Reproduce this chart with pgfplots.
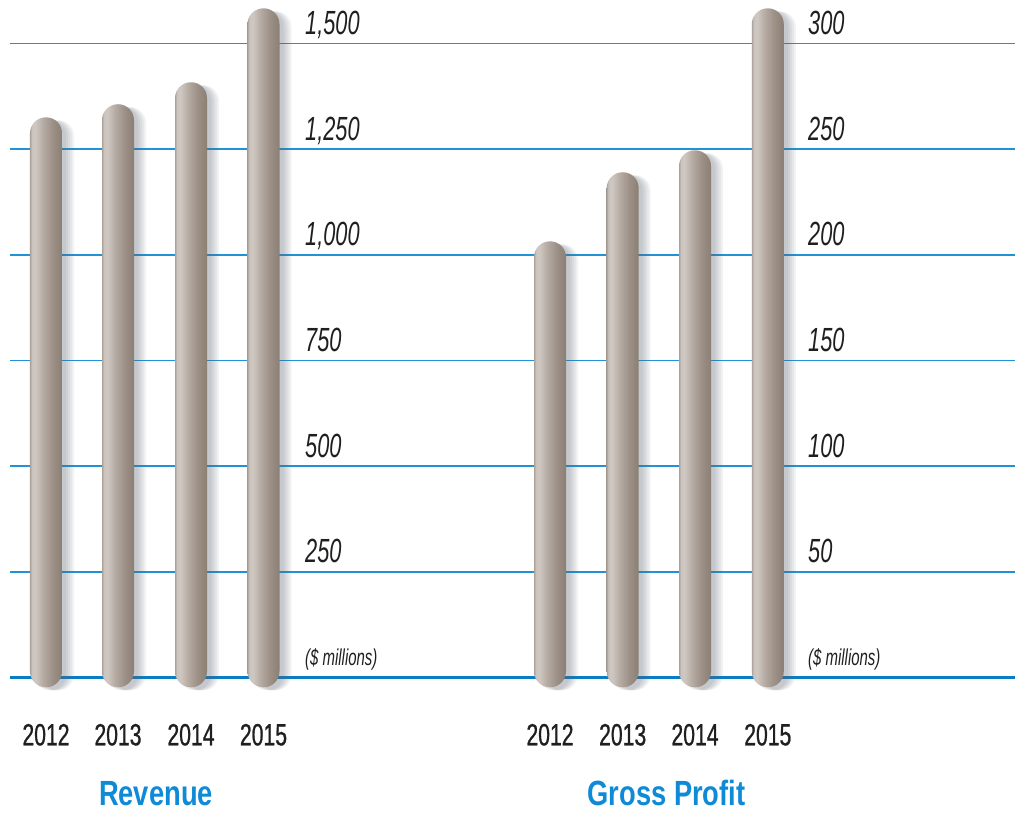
\documentclass[border=0pt]{standalone}
\usepackage{pgfplots}
\pgfplotsset{compat=1.18}
\usepackage{fontspec}
\setmainfont{Liberation Sans}
\newfontfamily\lblfont[FakeStretch=0.65]{Liberation Sans}
\newfontfamily\yearfont[FakeStretch=0.69, FakeBold=0.8]{Liberation Sans}
\newfontfamily\titlefont[FakeStretch=0.78]{Liberation Sans}
\definecolor{gridblue}{HTML}{2192D6}
\definecolor{baseblue}{HTML}{0A7CC4}
\definecolor{titleblue}{HTML}{0E8AD6}
\definecolor{shadowc}{HTML}{5F6672}
\definecolor{b0}{HTML}{ACA29A}
\definecolor{b1}{HTML}{CBC3BD}
\definecolor{b2}{HTML}{CFC8C2}
\definecolor{b3}{HTML}{B6ACA4}
\definecolor{b4}{HTML}{9D9086}
\definecolor{b5}{HTML}{8B7E73}
\pgfdeclarehorizontalshading{pill}{100bp}{color(0bp)=(b0); color(25bp)=(b0); color(28bp)=(b1); color(33bp)=(b2); color(45bp)=(b3); color(60bp)=(b4); color(75bp)=(b5); color(100bp)=(b5)}
\pgfplotsset{
  pillaxis/.style={
    scale only axis, height=676.05pt, clip=false,
    axis line style={draw=none}, major tick style={draw=none}, minor tick style={draw=none},
    ymajorgrids=false, yminorgrids,
    minor grid style={line width=3pt, color=baseblue},
    extra y tick labels={},
    extra y tick style={ymajorgrids=true, major grid style={line width=1.8pt, color=gridblue}},
    xticklabel style={font=\yearfont\fontsize{30.7}{31}\selectfont, text=black!88, anchor=base, inner sep=0pt, yshift=-46.9pt},
    yticklabel style={font=\lblfont\itshape\fontsize{33.5}{34}\selectfont, text=black!88, anchor=base west, inner sep=0pt, yshift=9pt},
  },
  shad/.style={
    ybar, bar width=32pt, bar shift=#1, draw=none, fill=shadowc, fill opacity=0.085,
    rounded corners=15.9pt, yshift=-13pt, forget plot,
  },
  pill/.style={
    ybar, bar width=32pt, bar shift=0pt, draw=none,
    shade, shading=pill, rounded corners=15.9pt, yshift=-10pt,
  },
}
\begin{document}
\begin{tikzpicture}
\useasboundingbox (0pt,0pt) rectangle (1015pt,815pt);
\pgfplotstableread{
x y
46 1349
118 1380
191 1432
263.5 1607
}\revenue
\pgfplotstableread{
x y
550 211.1
622.7 243.8
695 254.2
767.8 321.4
}\profit
% Revenue
\begin{axis}[pillaxis, at={(10pt,116.57pt)}, anchor=south west,
  width=490pt, xmin=10, xmax=500, ymin=-50, ymax=1550,
  ytick={0,250,500,750,1000,1250,1500}, minor ytick={0},
  extra y ticks={250,500,750,1000,1250,1500},
  yticklabels={{\raisebox{3pt}{\fontsize{23}{23}\selectfont(\$ millions)}},250,500,750,{1,000},{1,250},{1,500}},
  yticklabel style={xshift=295pt},
  xtick={46,118,191,263.5}, xticklabels={2012,2013,2014,2015}]
\addplot[shad=4pt] table {\revenue};
\addplot[shad=6pt] table {\revenue};
\addplot[shad=8pt] table {\revenue};
\addplot[shad=10pt] table {\revenue};
\addplot[shad=12pt] table {\revenue};
\addplot[pill] coordinates {(46,1349)};
\addplot[pill] coordinates {(118,1380)};
\addplot[pill] coordinates {(191,1432)};
\addplot[pill] coordinates {(263.5,1607)};
\node[anchor=base, inner sep=0pt, yshift=-128pt, font=\titlefont\bfseries\fontsize{35}{36}\selectfont, text=titleblue] at (axis cs:156,0) {Revenue};
\end{axis}
% Gross Profit
\begin{axis}[pillaxis, at={(500pt,116.57pt)}, anchor=south west,
  width=515pt, xmin=500, xmax=1015, ymin=-10, ymax=310,
  ytick={0,50,100,150,200,250,300}, minor ytick={0},
  extra y ticks={50,100,150,200,250,300},
  yticklabels={{\raisebox{3pt}{\fontsize{23}{23}\selectfont(\$ millions)}},50,100,150,200,250,300},
  yticklabel style={xshift=308pt},
  xtick={550,622.7,695,767.8}, xticklabels={2012,2013,2014,2015}]
\addplot[shad=4pt] table {\profit};
\addplot[shad=6pt] table {\profit};
\addplot[shad=8pt] table {\profit};
\addplot[shad=10pt] table {\profit};
\addplot[shad=12pt] table {\profit};
\addplot[pill] coordinates {(550,211.1)};
\addplot[pill] coordinates {(622.7,243.8)};
\addplot[pill] coordinates {(695,254.2)};
\addplot[pill] coordinates {(767.8,321.4)};
\node[anchor=base, inner sep=0pt, yshift=-128pt, font=\titlefont\bfseries\fontsize{35}{36}\selectfont, text=titleblue] at (axis cs:666.5,0) {Gross Profit};
\end{axis}
\end{tikzpicture}
\end{document}
